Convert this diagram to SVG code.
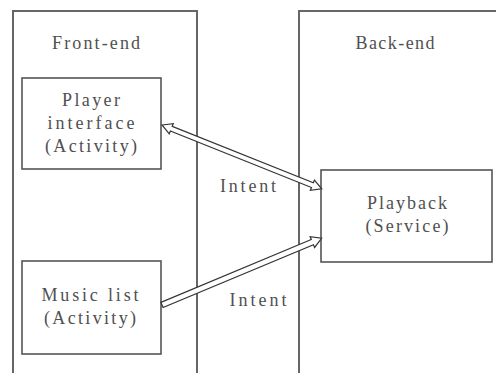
<svg xmlns="http://www.w3.org/2000/svg" width="496" height="373" viewBox="0 0 496 373">
<style>
.box{fill:none;stroke:#555;stroke-width:1.6}
.outer{fill:none;stroke:#666;stroke-width:2}
.t{font-family:"Liberation Serif","DejaVu Serif",serif;font-size:18px;fill:#505050;text-anchor:middle}
.arr{fill:#fff;stroke:#333;stroke-width:1.2;stroke-linejoin:miter}
</style>
<rect width="496" height="373" fill="#fff"/>
<g id="frontend">
<rect class="outer" x="13" y="11" width="184" height="370"/>
<text class="t" x="96" y="49" textLength="88" lengthAdjust="spacing">Front-end</text>
</g>
<g id="backend">
<rect class="outer" x="299" y="11" width="210" height="370"/>
<text class="t" x="395" y="49" textLength="79" lengthAdjust="spacing">Back-end</text>
</g>
<g id="player">
<rect class="box" x="22" y="78" width="139" height="91"/>
<text class="t" x="91" y="106" textLength="58" lengthAdjust="spacing">Player</text>
<text class="t" x="91" y="129" textLength="87" lengthAdjust="spacing">interface</text>
<text class="t" x="91" y="152" textLength="92" lengthAdjust="spacing">(Activity)</text>
</g>
<g id="musiclist">
<rect class="box" x="22" y="261" width="139" height="93"/>
<text class="t" x="90" y="301" textLength="97" lengthAdjust="spacing">Music list</text>
<text class="t" x="90" y="324" textLength="92" lengthAdjust="spacing">(Activity)</text>
</g>
<g id="playback">
<rect class="box" x="321" y="170" width="171" height="92"/>
<text class="t" x="407" y="209" textLength="80" lengthAdjust="spacing">Playback</text>
<text class="t" x="407" y="232" textLength="83" lengthAdjust="spacing">(Service)</text>
</g>
<g id="connectors">
<polygon class="arr" transform="translate(162,125) rotate(21.8)" points="0,0 10,-5.5 10,-2.5 162,-2.5 162,-5.5 172,0 162,5.5 162,2.5 10,2.5 10,5.5"/>
<polygon class="arr" transform="translate(162,305) rotate(-22.7)" points="0,-2.8 163,-2.8 163,-5.8 173,0 163,5.8 163,2.8 0,2.8"/>
<text class="t" x="248" y="192" textLength="56" lengthAdjust="spacing">Intent</text>
<text class="t" x="258" y="306" textLength="57" lengthAdjust="spacing">Intent</text>
</g>
</svg>
